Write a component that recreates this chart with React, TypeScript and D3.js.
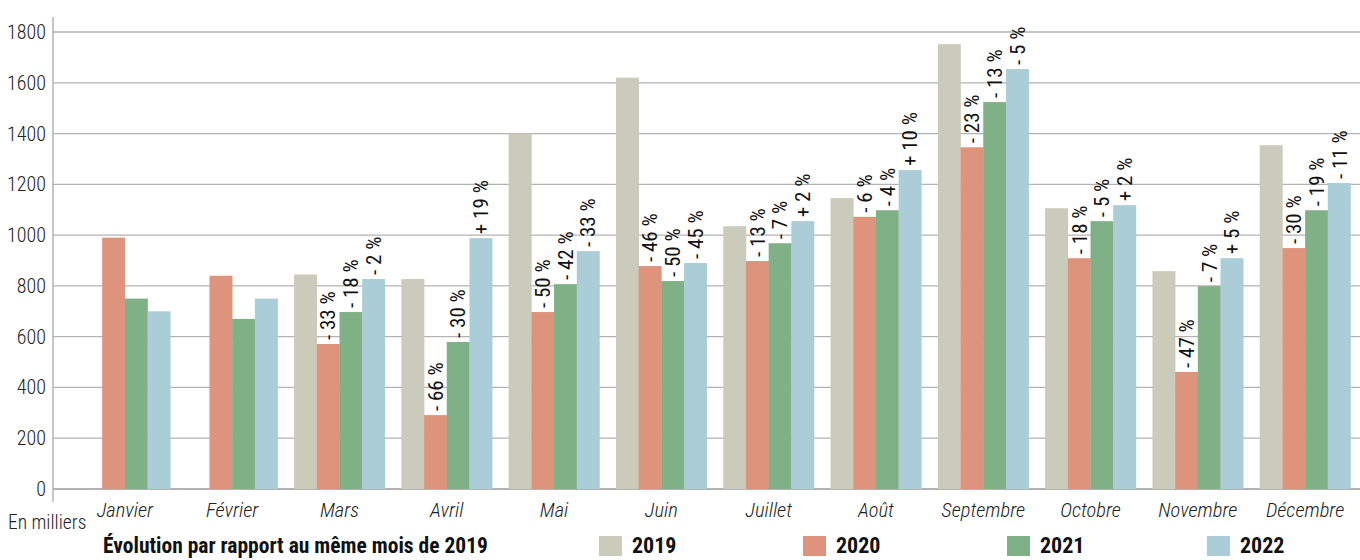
import React from 'react';
import * as d3 from 'd3';

const months = ['Janvier', 'Février', 'Mars', 'Avril', 'Mai', 'Juin', 'Juillet', 'Août', 'Septembre', 'Octobre', 'Novembre', 'Décembre'];
const years = ['2019', '2020', '2021', '2022'];
const colors = ['#cbcbbb', '#de937d', '#80b186', '#abcdd7'];

// en milliers
const values2019 = [null, null, 845, 827, 1400, 1620, 1035, 1146, 1752, 1106, 858, 1354];
const values2020 = [990, 840, 571, 291, 697, 878, 898, 1072, 1346, 909, 461, 949];
const values2021 = [750, 670, 697, 579, 807, 819, 968, 1098, 1524, 1055, 799, 1098];
const values2022 = [700, 750, 827, 988, 937, 890, 1055, 1256, 1654, 1118, 909, 1205];

// évolution par rapport au même mois de 2019
const labels2020 = [null, null, '- 33 %', '- 66 %', '- 50 %', '- 46 %', '- 13 %', '- 6 %', '- 23 %', '- 18 %', '- 47 %', '- 30 %'];
const labels2021 = [null, null, '- 18 %', '- 30 %', '- 42 %', '- 50 %', '- 7 %', '- 4 %', '- 13 %', '- 5 %', '- 7 %', '- 19 %'];
const labels2022 = [null, null, '- 2 %', '+ 19 %', '- 33 %', '- 45 %', '+ 2 %', '+ 10 %', '- 5 %', '+ 2 %', '+ 5 %', '- 11 %'];

const yTicks = [0, 200, 400, 600, 800, 1000, 1200, 1400, 1600, 1800];

const FONT = '"Roboto Condensed", "Liberation Sans Narrow", "DejaVu Sans Condensed", sans-serif';

export default function App() {
  const width = 1360;
  const height = 560;
  const axisX = 53;

  const series = [values2019, values2020, values2021, values2022];
  const labels = [null, labels2020, labels2021, labels2022];

  const x0 = d3.scaleBand<string>()
    .domain(months)
    .range([axisX, 1377])
    .paddingInner(0.154)
    .paddingOuter(0.247);

  const x1 = d3.scaleBand<string>()
    .domain(years)
    .range([0, x0.bandwidth()]);

  const y = d3.scaleLinear()
    .domain([0, 1800])
    .range([489, 32]);

  const legendX = [599, 803, 1007, 1207];

  return (
    <svg width={width} height={height} style={{ position: 'absolute', left: 0, top: 0, background: '#fff' }}>
      {/* grille */}
      {yTicks.map(t => (
        <g key={t}>
          <line x1={axisX} x2={width} y1={y(t)} y2={y(t)} stroke="#b3b3b3" strokeWidth={t === 0 ? 2 : 1.3} />
          <text x={46} y={y(t)} dy="0.35em" textAnchor="end" fontFamily={FONT} fontWeight={300} fontSize={20} fill="#222">{t}</text>
        </g>
      ))}
      <line x1={axisX} x2={axisX} y1={17} y2={502} stroke="#b3b3b3" strokeWidth={1.5} />

      {/* barres */}
      {months.map((m, i) => (
        <g key={m} transform={`translate(${x0(m)},0)`}>
          {series.map((s, k) => {
            const v = s[i];
            if (v == null) return null;
            return (
              <rect key={k} x={x1(years[k])} y={y(v)} width={x1.bandwidth() + 0.3} height={y(0) - y(v)} fill={colors[k]} />
            );
          })}
          {series.map((s, k) => {
            const lab = labels[k] ? labels[k][i] : null;
            const v = s[i];
            if (!lab || v == null) return null;
            const cx = (x1(years[k]) as number) + x1.bandwidth() / 2;
            return (
              <text key={'l' + k} transform={`translate(${cx},${y(v) - 4}) rotate(-90)`} dy="0.35em"
                fontFamily={FONT} fontSize={21} fill="#111">{lab}</text>
            );
          })}
          <text x={x0.bandwidth() / 2} y={517} textAnchor="middle" fontFamily={FONT} fontStyle="italic" fontWeight={300} fontSize={20.5} fill="#222">{m}</text>
        </g>
      ))}

      <text x={8} y={529} fontFamily={FONT} fontWeight={300} fontSize={19.5} fill="#222">En milliers</text>

      {/* légende */}
      <text x={103} y={553} fontFamily={FONT} fontWeight="bold" fontSize={21.5} fill="#111">Évolution par rapport au même mois de 2019</text>
      {years.map((yr, k) => (
        <g key={yr}>
          <rect x={legendX[k]} y={536} width={23} height={20} fill={colors[k]} />
          <text x={legendX[k] + 33} y={553} fontFamily={FONT} fontWeight="bold" fontSize={22} fill="#111">{yr}</text>
        </g>
      ))}
    </svg>
  );
}
